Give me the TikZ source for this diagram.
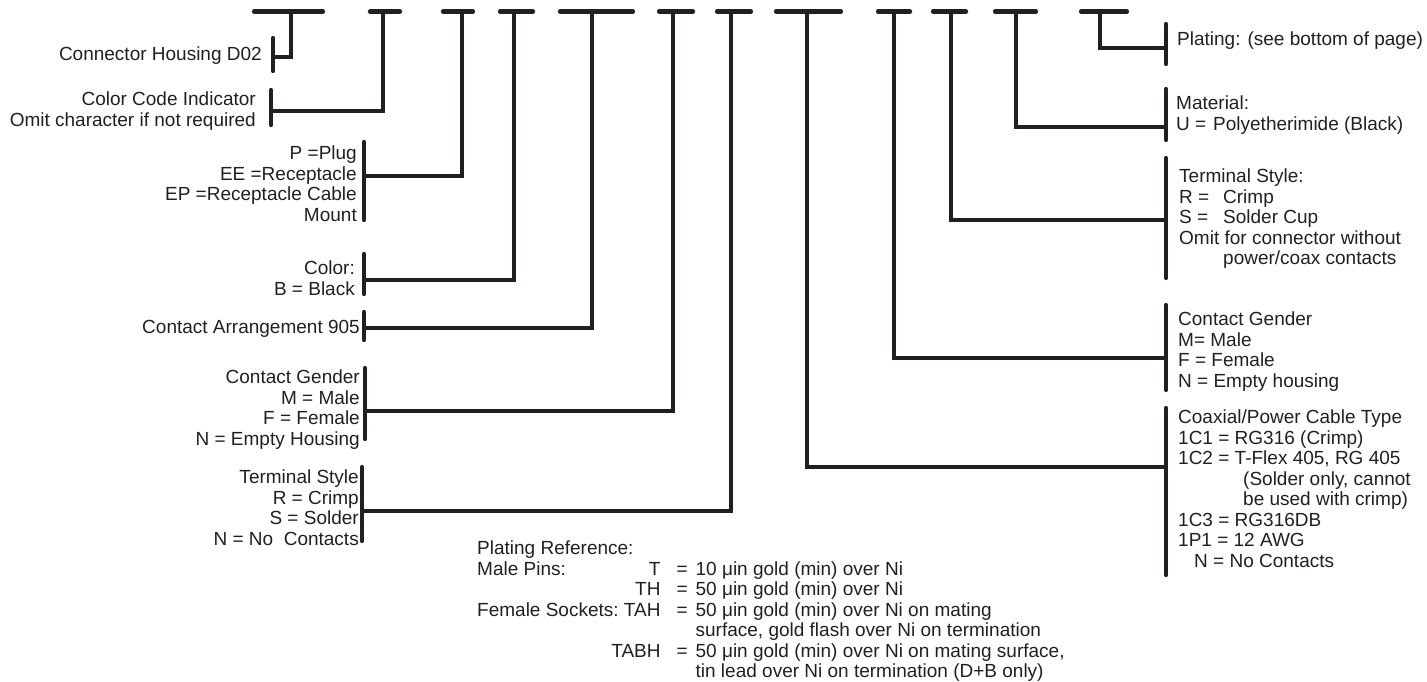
\documentclass[tikz,border=0pt]{standalone}
\usepackage{fontspec}
\setmainfont{Liberation Sans}
\usetikzlibrary{calc}
\definecolor{ink}{RGB}{35,31,32}
\newcommand{\fieldfont}{\fontsize{19}{20.5}\selectfont}

\begin{document}
\begin{tikzpicture}[
  x=1pt, y=-1pt,
  slot/.style={draw=ink, line width=4.2pt, line cap=round},
  lead/.style={draw=ink, line width=3.4pt},
  bar/.style={draw=ink, line width=4.2pt, line cap=round},
  lbl/.style={inner sep=0pt, text=ink, font=\fieldfont},
  lefttext/.style={lbl, anchor=north east, align=right},
  righttext/.style={lbl, anchor=north west, align=left}
]
\useasboundingbox (0,0) rectangle (1427,681);

% Part number slots along the top edge.
\draw[slot] (254,11.5) -- (323,11.5);   \coordinate (s1)  at (291,11.5);
\draw[slot] (370,11.5) -- (400,11.5);   \coordinate (s2)  at (383,11.5);
\draw[slot] (443,11.5) -- (473,11.5);   \coordinate (s3)  at (462,11.5);
\draw[slot] (500,11.5) -- (533,11.5);   \coordinate (s4)  at (514,11.5);
\draw[slot] (560,11.5) -- (633,11.5);   \coordinate (s5)  at (592,11.5);
\draw[slot] (659,11.5) -- (693,11.5);   \coordinate (s6)  at (673,11.5);
\draw[slot] (717,11.5) -- (751,11.5);   \coordinate (s7)  at (731,11.5);
\draw[slot] (776,11.5) -- (841,11.5);   \coordinate (s8)  at (807,11.5);
\draw[slot] (878,11.5) -- (910,11.5);   \coordinate (s9)  at (894,11.5);
\draw[slot] (933,11.5) -- (966,11.5);   \coordinate (s10) at (951,11.5);
\draw[slot] (995,11.5) -- (1036,11.5);  \coordinate (s11) at (1016,11.5);
\draw[slot] (1081,11.5) -- (1127,11.5); \coordinate (s12) at (1100,11.5);

% Fields explained on the left.
\node[lefttext] (housing) at (262,47) {Connector Housing D02};
\node[lefttext] (colorcode) at (256,92)
  {Color Code Indicator\\Omit character if not required};
\node[lefttext] (shell) at (357,146)
  {P =Plug\\EE =Receptacle\\EP =Receptacle Cable\\Mount};
\node[lefttext] (color) at (355,261) {Color:\\B = Black};
\node[lefttext] (arrangement) at (360,320) {Contact Arrangement 905};
\node[lefttext] (gender) at (360,370)
  {Contact Gender\\M = Male\\F = Female\\N = Empty Housing};
\node[lefttext] (termination) at (359,470)
  {Terminal Style\\R = Crimp\\S = Solder\\N = No\ \ Contacts};

% Fields explained on the right.
\node[righttext] (plating) at (1177,32) {Plating: (see bottom of page)};
\node[righttext] (material) at (1176,96)
  {Material:\\\makebox[37pt][l]{U =}Polyetherimide (Black)};
\node[righttext] (cablestyle) at (1179,169)
  {Terminal Style:\\\makebox[44pt][l]{R =}Crimp\\\makebox[44pt][l]{S =}Solder Cup\\
   Omit for connector without\\\hspace*{44pt}power/coax contacts};
\node[righttext] (cablegender) at (1178,312)
  {Contact Gender\\M= Male\\F = Female\\N = Empty housing};
\node[righttext] (cable) at (1178,410)
  {Coaxial/Power Cable Type\\1C1 = RG316 (Crimp)\\1C2 = T-Flex 405, RG 405\\
   \hspace*{65pt}(Solder only, cannot\\\hspace*{65pt}be used with crimp)\\
   1C3 = RG316DB\\1P1 = 12 AWG\\\hspace*{16pt}N = No Contacts};

% Plating table at the bottom.
\node[lbl, anchor=north west] (platingref) at (477,540) {%
  \begin{tabular}{@{}l@{\ }r@{\hspace{16pt}}c@{\hspace{8pt}}l@{}}
  \multicolumn{4}{@{}l@{}}{Plating Reference:}\\
  Male Pins: & T & = & 10 μin gold (min) over Ni\\
   & TH & = & 50 μin gold (min) over Ni\\
  Female Sockets: & TAH & = & 50 μin gold (min) over Ni on mating\\
   & & & surface, gold flash over Ni on termination\\
  \multicolumn{2}{@{}r@{\hspace{16pt}}}{TABH} & = & 50 μin gold (min) over Ni on mating surface,\\
   & & & tin lead over Ni on termination (D+B only)
  \end{tabular}};

% Brackets beside the texts; leaders run from the slots to them.
\draw[bar] (273,38) -- (273,71);     \coordinate (b1)  at (273,57);
\draw[bar] (271,90) -- (271,125);    \coordinate (b2)  at (271,111);
\draw[bar] (364,142) -- (364,220);   \coordinate (b3)  at (364,176);
\draw[bar] (364,254) -- (364,294);   \coordinate (b4)  at (364,280);
\draw[bar] (364,312) -- (364,340);   \coordinate (b5)  at (364,328);
\draw[bar] (365,368) -- (365,439);   \coordinate (b6)  at (365,411);
\draw[bar] (362,467) -- (362,541);   \coordinate (b7)  at (362,511);
\draw[bar] (1166,408) -- (1166,575); \coordinate (b8)  at (1166,467);
\draw[bar] (1166,305) -- (1166,390); \coordinate (b9)  at (1166,358);
\draw[bar] (1166,158) -- (1166,278); \coordinate (b10) at (1166,220);
\draw[bar] (1166,89) -- (1166,140);  \coordinate (b11) at (1166,127);
\draw[bar] (1166,24) -- (1166,64);   \coordinate (b12) at (1166,48);

\draw[lead] (s1) |- (b1);
\draw[lead] (s2) |- (b2);
\draw[lead] (s3) |- (b3);
\draw[lead] (s4) |- (b4);
\draw[lead] (s5) |- (b5);
\draw[lead] (s6) |- (b6);
\draw[lead] (s7) |- (b7);
\draw[lead] (s8) |- (b8);
\draw[lead] (s9) |- (b9);
\draw[lead] (s10) |- (b10);
\draw[lead] (s11) |- (b11);
\draw[lead] (s12) |- (b12);

\end{tikzpicture}
\end{document}
